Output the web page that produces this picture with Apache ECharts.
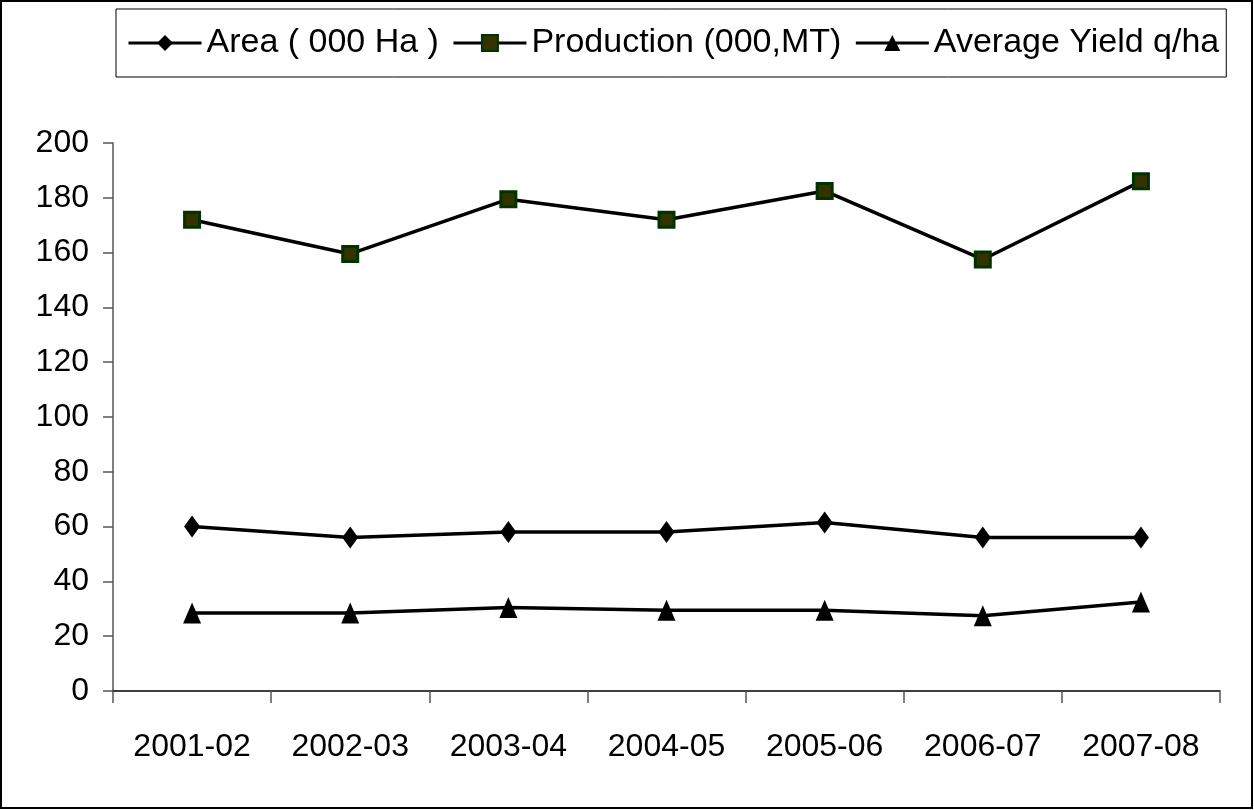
<!DOCTYPE html>
<html>
<head>
<meta charset="utf-8">
<script src="https://cdn.jsdelivr.net/npm/echarts@6/dist/echarts.min.js"></script>
<style>html,body{margin:0;padding:0;background:#fff;}#c{width:1254px;height:810px;}</style>
</head>
<body>
<div id="c"></div>
<script>
var categories = ['2001-02','2002-03','2003-04','2004-05','2005-06','2006-07','2007-08'];
var areaValues = [60, 56, 58, 58, 61.5, 56, 56];
var productionValues = [172, 159.5, 179.5, 172, 182.5, 157.5, 186];
var yieldValues = [28.5, 28.5, 30.5, 29.5, 29.5, 27.5, 32.5];
var seriesNames = ['Area ( 000 Ha )', 'Production (000,MT)', 'Average Yield q/ha'];

var font = '"Liberation Sans", Arial, sans-serif';
var chart = echarts.init(document.getElementById('c'), null, {renderer: 'canvas'});
chart.setOption({
  animation: false,
  backgroundColor: '#fff',
  graphic: [{
    type: 'rect', silent: true, z: -1,
    shape: {x: 1, y: 1, width: 1251, height: 807},
    style: {fill: 'none', stroke: '#000', lineWidth: 2}
  }],
  legend: {
    left: 116, top: 9,
    padding: [17, 7, 17, 11],
    itemGap: 13,
    itemWidth: 73, itemHeight: 20,
    borderColor: '#000', borderWidth: 1,
    lineStyle: {width: 3},
    textStyle: {fontFamily: font, fontSize: 34, color: '#000'},
    data: seriesNames
  },
  grid: {left: 113, right: 34, top: 143, bottom: 119, containLabel: false},
  xAxis: {
    type: 'category',
    data: categories,
    boundaryGap: true,
    axisLine: {lineStyle: {color: '#000', width: 1.5}},
    axisTick: {show: true, length: 12, lineStyle: {color: '#555', width: 1.5}},
    axisLabel: {fontFamily: font, fontSize: 32, color: '#000', margin: 40}
  },
  yAxis: {
    type: 'value', min: 0, max: 200, interval: 20,
    axisLine: {show: true, lineStyle: {color: '#555', width: 1.5}},
    axisTick: {show: true, length: 10, lineStyle: {color: '#555', width: 1.5}},
    splitLine: {show: false},
    axisLabel: {fontFamily: font, fontSize: 32, color: '#000', margin: 24}
  },
  series: [
    {
      name: seriesNames[0], type: 'line', data: areaValues,
      symbol: 'diamond', symbolSize: [16, 22],
      lineStyle: {color: '#000', width: 3.5},
      itemStyle: {color: '#000'}
    },
    {
      name: seriesNames[1], type: 'line', data: productionValues,
      symbol: 'rect', symbolSize: 15,
      lineStyle: {color: '#000', width: 3.5},
      itemStyle: {color: '#333300', borderColor: '#003300', borderWidth: 3}
    },
    {
      name: seriesNames[2], type: 'line', data: yieldValues,
      symbol: 'triangle', symbolSize: [18, 21],
      lineStyle: {color: '#000', width: 3.5},
      itemStyle: {color: '#000'}
    }
  ]
});
</script>
</body>
</html>
